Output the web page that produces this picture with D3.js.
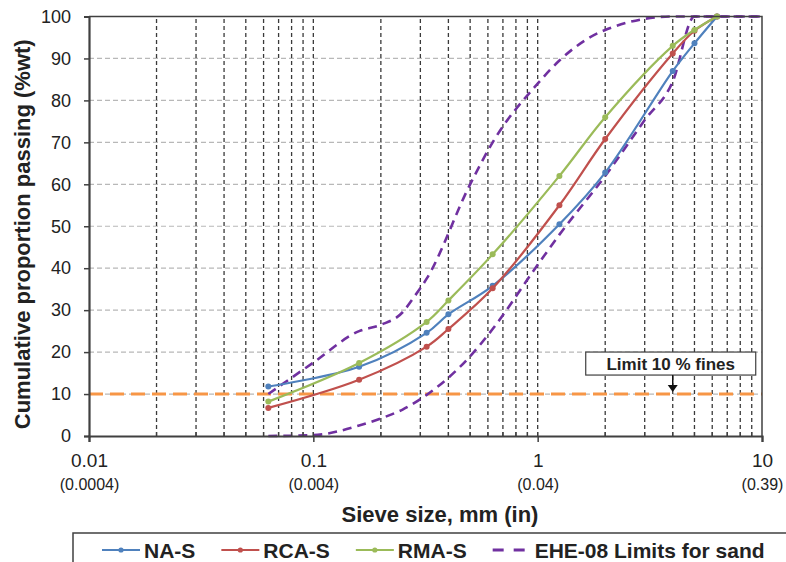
<!DOCTYPE html>
<html>
<head>
<meta charset="utf-8">
<script src="https://cdn.jsdelivr.net/npm/d3@7"></script>
<style>
  body { margin: 0; background: #fff; }
  svg { display: block; font-family: "Liberation Sans", Arial, sans-serif; }
</style>
</head>
<body>
<div id="chart"></div>
<script>
// sieve sizes (mm) and cumulative passing (%wt)
const sieves = [0.063, 0.16, 0.32, 0.4, 0.63, 1.25, 2, 4, 5, 6.3]
const naS = [11.8, 16.5, 24.6, 29.0, 35.8, 50.5, 62.8, 87.0, 93.6, 100]
const rcaS = [6.7, 13.4, 21.3, 25.5, 35.2, 55.0, 70.8, 91.2, 96.6, 100]
const rmaS = [8.2, 17.4, 27.2, 32.3, 43.3, 62.0, 76.0, 93.0, 96.8, 100]

// EHE-08 limits for sand
const upperSieves = [0.063, 0.1, 0.16, 0.2, 0.25, 0.28, 0.32, 0.5, 0.63, 1, 1.25, 2, 4, 10]
const upperLimit = [10, 17.5, 25, 26.5, 29.5, 33, 37.5, 60, 70, 84, 89.5, 96.8, 100, 100]
const lowerSieves = [0.063, 0.1, 0.16, 0.2, 0.25, 0.32, 0.5, 0.63, 1, 1.25, 2, 3, 4, 5, 10]
const lowerLimit = [0, 0.2, 2.5, 4.2, 6.3, 9.8, 19, 25.5, 40.8, 48, 62, 75.3, 84.5, 100, 100]

const finesLimit = 10
const finesLabelAt = 4

const xTicks = [0.01, 0.1, 1, 10]
const xTickInches = ['(0.0004)', '(0.004)', '(0.04)', '(0.39)']
const yTicks = [0, 10, 20, 30, 40, 50, 60, 70, 80, 90, 100]

const seriesNames = ['NA-S', 'RCA-S', 'RMA-S']
const seriesColors = ['#4F81BD', '#C0504D', '#9BBB59']
const limitName = 'EHE-08 Limits for sand'
const limitColor = '#7030A0'
const finesColor = '#F79646'

const createGradingChart = ({ el, width, height }) => {
  const margin = { top: 16.5, right: 24, bottom: 126, left: 89 }

  const svg = d3.select(el).append('svg')
    .attr('width', width)
    .attr('height', height)

  const x = d3.scaleLog()
    .domain([0.01, 10])
    .range([margin.left, width - margin.right])

  const y = d3.scaleLinear()
    .domain([0, 100])
    .range([height - margin.bottom, margin.top])

  const [x0, x1] = x.range()
  const [y0, y1] = y.range()

  // horizontal grid
  svg.append('g')
    .selectAll('line')
    .data(yTicks.slice(1))
    .enter().append('line')
    .attr('x1', x0).attr('x2', x1)
    .attr('y1', d => y(d)).attr('y2', d => y(d))
    .attr('stroke', '#b8b8b8')
    .attr('stroke-width', 1.2)
    .attr('stroke-dasharray', '5,3')

  // vertical grid on every log tick
  const minor = x.ticks().filter(d => d > 0.0101 && d < 9.99)
  svg.append('g')
    .selectAll('line')
    .data(minor)
    .enter().append('line')
    .attr('x1', d => x(d)).attr('x2', d => x(d))
    .attr('y1', y0).attr('y2', y1)
    .attr('stroke', '#3a3a3a')
    .attr('stroke-width', 1.3)
    .attr('stroke-dasharray', '4,3')

  // 10 % fines line
  svg.append('line')
    .attr('x1', x0).attr('x2', x1)
    .attr('y1', y(finesLimit)).attr('y2', y(finesLimit))
    .attr('stroke', finesColor)
    .attr('stroke-width', 3)
    .attr('stroke-dasharray', '14,7')

  // EHE limits
  const limitLine = d3.line()
    .x(d => x(d[0]))
    .y(d => y(d[1]))
    .curve(d3.curveMonotoneX)

  const limits = [
    upperSieves.map((s, i) => [s, upperLimit[i]]),
    lowerSieves.map((s, i) => [s, lowerLimit[i]])
  ]
  svg.append('g')
    .selectAll('path')
    .data(limits)
    .enter().append('path')
    .attr('d', limitLine)
    .attr('fill', 'none')
    .attr('stroke', limitColor)
    .attr('stroke-width', 2.6)
    .attr('stroke-dasharray', '9,6')

  // measured gradings
  const series = [naS, rcaS, rmaS].map((vals, i) => ({
    name: seriesNames[i],
    color: seriesColors[i],
    points: sieves.map((s, j) => [s, vals[j]])
  }))

  const line = d3.line()
    .x(d => x(d[0]))
    .y(d => y(d[1]))
    .curve(d3.curveCatmullRom.alpha(0.5))

  const g = svg.append('g')
    .selectAll('g')
    .data(series)
    .enter().append('g')

  g.append('path')
    .attr('d', d => line(d.points))
    .attr('fill', 'none')
    .attr('stroke', d => d.color)
    .attr('stroke-width', 2.2)

  g.selectAll('circle')
    .data(d => d.points.map(p => ({ p, color: d.color })))
    .enter().append('circle')
    .attr('cx', d => x(d.p[0]))
    .attr('cy', d => y(d.p[1]))
    .attr('r', 3)
    .attr('fill', d => d.color)

  // frame
  svg.append('path')
    .attr('d', `M${x0},${y1}H${x1}V${y0}`)
    .attr('fill', 'none')
    .attr('stroke', '#404040')
    .attr('stroke-width', 1.5)

  // y axis
  const yAxis = svg.append('g')
    .attr('transform', `translate(${x0},0)`)
    .call(d3.axisLeft(y).tickValues(yTicks).tickSize(5).tickPadding(13))
  yAxis.select('.domain').attr('stroke', '#404040').attr('stroke-width', 2.2)
  yAxis.selectAll('.tick line').attr('stroke', '#404040').attr('stroke-width', 1.5)
  yAxis.selectAll('.tick text')
    .attr('font-size', 18)
    .attr('fill', '#222')
    .style('font-family', '"Liberation Sans", Arial, sans-serif')

  // x axis
  const xAxis = svg.append('g')
    .attr('transform', `translate(0,${y0})`)
    .call(d3.axisBottom(x).tickValues(xTicks).tickFormat(d3.format('')).tickSize(6).tickPadding(12))
  xAxis.select('.domain').attr('stroke', '#404040').attr('stroke-width', 2.2)
  xAxis.selectAll('.tick line').attr('stroke', '#404040').attr('stroke-width', 1.5)
  xAxis.selectAll('.tick text')
    .attr('font-size', 19)
    .attr('fill', '#222')
    .style('font-family', '"Liberation Sans", Arial, sans-serif')
  xAxis.selectAll('.tick')
    .append('text')
    .attr('y', 54)
    .attr('fill', '#222')
    .attr('font-size', 16)
    .style('font-family', '"Liberation Sans", Arial, sans-serif')
    .text((d, i) => xTickInches[i])

  // minor ticks inside the x axis
  svg.append('g')
    .selectAll('line')
    .data(minor)
    .enter().append('line')
    .attr('x1', d => x(d)).attr('x2', d => x(d))
    .attr('y1', y0).attr('y2', y0 - 4)
    .attr('stroke', '#404040')
    .attr('stroke-width', 1.3)

  // axis titles
  svg.append('text')
    .attr('x', 440)
    .attr('y', y0 + 86)
    .attr('text-anchor', 'middle')
    .attr('font-size', 22)
    .attr('font-weight', 'bold')
    .attr('fill', '#222')
    .text('Sieve size, mm (in)')

  svg.append('text')
    .attr('transform', `translate(30,${(y0 + y1) / 2 + 8}) rotate(-90)`)
    .attr('text-anchor', 'middle')
    .attr('font-size', 22)
    .attr('font-weight', 'bold')
    .attr('fill', '#222')
    .text('Cumulative proportion passing (%wt)')

  // fines annotation
  const ax = x(finesLabelAt)
  const ay = y(finesLimit)
  const note = svg.append('g')
  note.append('rect')
    .attr('x', ax - 87).attr('y', ay - 42)
    .attr('width', 170).attr('height', 23)
    .attr('fill', '#fff')
    .attr('stroke', '#404040')
    .attr('stroke-width', 1.2)
  note.append('text')
    .attr('x', ax - 2).attr('y', ay - 24.5)
    .attr('text-anchor', 'middle')
    .attr('font-size', 17)
    .attr('font-weight', 'bold')
    .attr('fill', '#222')
    .text('Limit 10 % fines')
  note.append('line')
    .attr('x1', ax).attr('x2', ax)
    .attr('y1', ay - 19).attr('y2', ay - 8)
    .attr('stroke', '#111').attr('stroke-width', 1.5)
  note.append('path')
    .attr('d', `M${ax - 5},${ay - 9}L${ax + 5},${ay - 9}L${ax},${ay - 2}Z`)
    .attr('fill', '#111')

  // legend
  const legend = svg.append('g')
  legend.append('rect')
    .attr('x', 73).attr('y', 533)
    .attr('width', width).attr('height', 60)
    .attr('fill', '#fff')
    .attr('stroke', '#404040')
    .attr('stroke-width', 1.5)

  const items = series.map(s => ({ name: s.name, color: s.color, dashed: false }))
    .concat([{ name: limitName, color: limitColor, dashed: true }])

  let lx = 102
  const ly = 550
  items.forEach(it => {
    const item = legend.append('g')
    item.append('line')
      .attr('x1', lx).attr('x2', lx + 38)
      .attr('y1', ly).attr('y2', ly)
      .attr('stroke', it.color)
      .attr('stroke-width', it.dashed ? 3 : 2.2)
      .attr('stroke-dasharray', it.dashed ? '11,10' : null)
    if (!it.dashed) {
      item.append('circle')
        .attr('cx', lx + 19).attr('cy', ly).attr('r', 2.6)
        .attr('fill', it.color)
    }
    const t = item.append('text')
      .attr('x', lx + 42).attr('y', ly + 7.5)
      .attr('font-size', 21)
      .attr('font-weight', 'bold')
      .attr('fill', '#222')
      .text(it.name)
    lx += 42 + t.node().getComputedTextLength() + 26
  })
}

createGradingChart({ el: '#chart', width: 786, height: 562 })
</script>
</body>
</html>
